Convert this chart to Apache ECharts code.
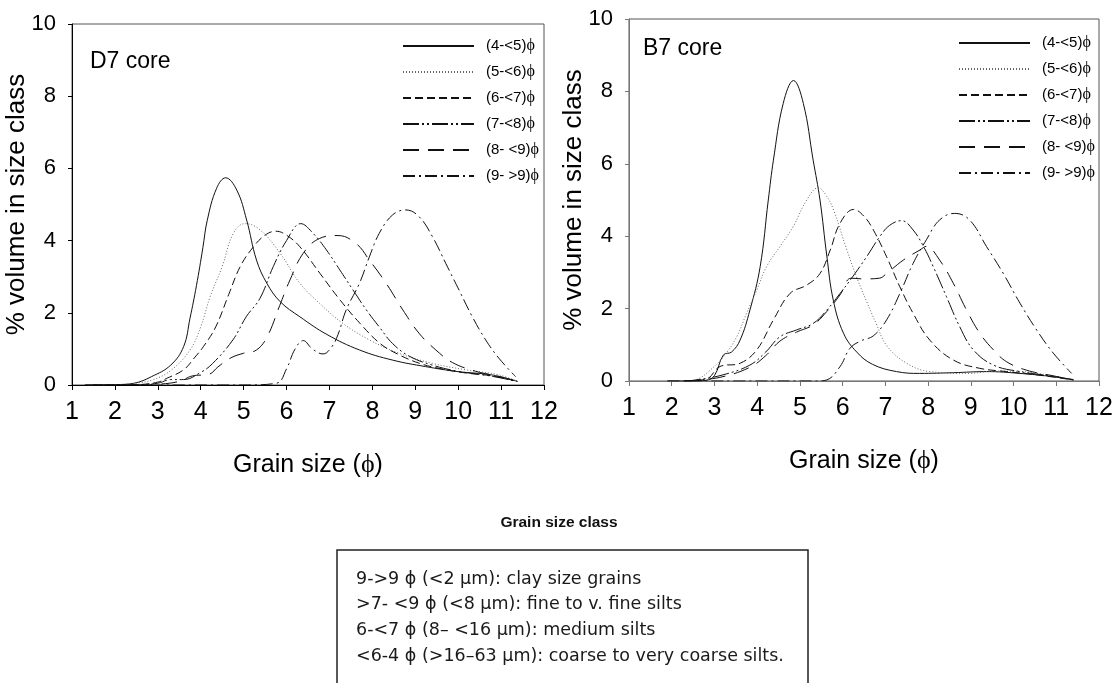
<!DOCTYPE html>
<html>
<head>
<meta charset="utf-8">
<script src="https://cdn.jsdelivr.net/npm/echarts@6/dist/echarts.min.js"></script>
<style>
  html, body { margin: 0; padding: 0; background: #fff; }
  #chart { width: 1118px; height: 683px; }
</style>
</head>
<body>
<div id="chart"></div>
<script>
// size classes (legend entries)
var classNames = ['(4-<5)ϕ', '(5-<6)ϕ', '(6-<7)ϕ', '(7-<8)ϕ', '(8- <9)ϕ', '(9- >9)ϕ'];
var xTicks = [1, 12, 1];   // min, max, step
var yTicks = [0, 10, 2];

// D7 core, [grain size phi, % volume]
var d7_45 = [[1.3,0],[2,0.01],[2.45,0.05],[2.85,0.23],[3.3,0.55],[3.6,1.06],[3.75,1.85],[3.9,2.75],[4.05,3.8],[4.15,4.55],[4.37,5.45],[4.58,5.74],[4.84,5.4],[5.07,4.57],[5.3,3.46],[5.54,2.82],[5.85,2.31],[6.31,1.89],[6.94,1.4],[7.7,0.97],[8.47,0.69],[9.24,0.51],[10,0.37],[10.78,0.28],[11.38,0.1]];
var d7_56 = [[1.3,0],[2,0.01],[2.5,0.05],[2.9,0.15],[3.32,0.42],[3.75,0.97],[4.0,1.61],[4.22,2.45],[4.5,3.28],[4.76,4.2],[5.03,4.47],[5.38,4.3],[5.85,3.65],[6.31,2.82],[6.77,2.26],[7.31,1.71],[7.93,1.25],[8.62,0.88],[9.4,0.6],[10.18,0.42],[10.95,0.28],[11.38,0.1]];
var d7_67 = [[1.5,0],[2.5,0.01],[3,0.08],[3.2,0.18],[3.6,0.42],[3.85,0.75],[4.06,1.06],[4.35,1.61],[4.65,2.5],[4.92,3.28],[5.23,3.83],[5.5,4.15],[5.75,4.26],[6.0,4.15],[6.31,3.83],[6.78,3.09],[7.25,2.35],[7.71,1.71],[8.18,1.15],[8.6,0.85],[9.1,0.6],[9.6,0.45],[10.2,0.33],[10.8,0.25],[11.38,0.1]];
var d7_78 = [[1.5,0],[2.5,0.01],[3.0,0.05],[3.3,0.15],[3.6,0.15],[4.0,0.35],[4.28,0.6],[4.75,1.25],[5.06,1.89],[5.38,2.4],[5.69,3.28],[6.0,4.0],[6.33,4.47],[6.62,4.2],[6.93,3.74],[7.24,3.19],[7.55,2.63],[7.86,2.08],[8.16,1.61],[8.47,1.15],[8.86,0.8],[9.4,0.55],[10,0.38],[10.7,0.26],[11.38,0.1]];
var d7_89 = [[2.5,0],[3.0,0.02],[3.5,0.1],[3.8,0.25],[4.2,0.3],[4.4,0.5],[4.7,0.75],[5.0,0.88],[5.3,0.97],[5.55,1.34],[5.84,2.2],[6.08,2.91],[6.39,3.65],[6.77,4.06],[7.2,4.14],[7.62,3.92],[7.93,3.46],[8.32,2.82],[8.71,2.08],[9.09,1.43],[9.48,0.97],[9.87,0.62],[10.41,0.38],[10.9,0.25],[11.38,0.1]];
var d7_99 = [[1.3,0],[5.0,0],[5.77,0.05],[6.0,0.45],[6.2,1.0],[6.39,1.23],[6.6,1.0],[6.85,0.86],[7.05,1.05],[7.2,1.4],[7.39,2.08],[7.7,2.82],[7.93,3.55],[8.16,4.2],[8.47,4.71],[8.78,4.85],[9.09,4.66],[9.4,4.11],[9.71,3.37],[10.02,2.63],[10.33,1.89],[10.64,1.25],[10.95,0.74],[11.34,0.23]];

// B7 core
var b7_45 = [[1.9,0],[2.5,0],[2.8,0.02],[3.0,0.15],[3.21,0.72],[3.4,0.8],[3.6,1.13],[3.83,1.96],[4.07,3.16],[4.26,5.0],[4.38,6.1],[4.61,7.67],[4.85,8.3],[5.08,7.67],[5.31,6.1],[5.47,5.0],[5.63,3.45],[5.78,2.24],[6.02,1.32],[6.33,0.8],[6.7,0.46],[7.26,0.26],[7.8,0.21],[8.6,0.23],[9.37,0.26],[10.15,0.21],[10.93,0.12],[11.4,0.04]];
var b7_56 = [[2.3,0],[2.6,0.05],[2.9,0.3],[3.21,0.67],[3.52,1.22],[3.75,1.87],[3.99,2.51],[4.22,3.16],[4.53,3.71],[4.84,4.26],[5.16,5.0],[5.43,5.34],[5.6,5.15],[5.78,4.75],[6.09,3.65],[6.35,2.8],[6.56,2.2],[6.78,1.6],[7.03,0.98],[7.5,0.49],[8.04,0.26],[8.98,0.21],[9.5,0.27],[10.0,0.27],[10.5,0.22],[11.0,0.12],[11.4,0.03]];
var b7_67 = [[2.3,0],[2.8,0.05],[3.13,0.4],[3.6,0.49],[3.99,0.86],[4.38,1.69],[4.77,2.42],[5.16,2.65],[5.47,2.97],[5.71,3.62],[5.94,4.36],[6.26,4.74],[6.5,4.55],[6.72,4.17],[7.03,3.43],[7.34,2.6],[7.65,1.87],[8.04,1.13],[8.59,0.58],[9.21,0.35],[9.84,0.26],[10.54,0.17],[11.4,0.03]];
var b7_78 = [[2.3,0],[2.58,0.03],[3.2,0.17],[3.83,0.44],[4.2,0.8],[4.53,1.22],[4.92,1.41],[5.31,1.59],[5.63,1.96],[5.94,2.42],[6.21,2.84],[6.56,3.43],[6.87,3.99],[7.1,4.3],[7.38,4.43],[7.65,4.17],[7.9,3.7],[8.12,3.16],[8.43,2.33],[8.74,1.5],[9.06,0.86],[9.53,0.44],[10.15,0.26],[10.8,0.15],[11.4,0.03]];
var b7_89 = [[2.3,0],[2.58,0.02],[3.2,0.12],[3.83,0.38],[4.2,0.7],[4.53,1.1],[4.92,1.35],[5.31,1.55],[5.63,1.92],[5.94,2.38],[6.2,2.84],[6.5,2.82],[6.86,2.84],[7.03,2.97],[7.42,3.34],[7.81,3.62],[7.96,3.72],[8.27,3.34],[8.59,2.7],[8.9,1.96],[9.21,1.32],[9.53,0.86],[9.84,0.53],[10.3,0.3],[10.9,0.15],[11.4,0.03]];
var b7_99 = [[1.9,0],[5.4,0],[5.63,0.03],[5.94,0.4],[6.17,0.9],[6.41,1.1],[6.72,1.25],[7.03,1.69],[7.34,2.42],[7.65,3.25],[7.96,3.9],[8.27,4.45],[8.62,4.63],[8.97,4.45],[9.37,3.71],[9.76,2.97],[10.15,2.15],[10.54,1.41],[10.93,0.77],[11.36,0.21]];

var classLines = [
  '9->9 ϕ (<2 µm): clay size grains',
  '>7- <9 ϕ (<8 µm): fine to v. fine silts',
  '6-<7 ϕ (8– <16 µm): medium silts',
  '<6-4 ϕ (>16–63 µm): coarse to very coarse silts.'
];

var FONT = 'Liberation Sans, Arial, sans-serif';
var dashes = ['solid', [1, 2], [8, 4], [16, 3, 2, 3, 2, 3], [16, 9], [12, 4, 2, 4]];
var colors = ['#111', '#666', '#111', '#111', '#111', '#111'];

var chart = echarts.init(document.getElementById('chart'), null, { renderer: 'canvas' });

function makeSeries(sets, idx) {
  return sets.map(function (d, i) {
    return {
      name: classNames[i],
      type: 'line',
      xAxisIndex: idx,
      yAxisIndex: idx,
      data: d,
      smooth: 0.4,
      symbol: 'none',
      animation: false,
      lineStyle: { color: colors[i], width: 1, type: dashes[i] },
      itemStyle: { color: colors[i] }
    };
  });
}

function xAxis(idx, axisColor) {
  return {
    type: 'value', gridIndex: idx, min: xTicks[0], max: xTicks[1], interval: xTicks[2],
    name: 'Grain size ({p|ϕ})', nameLocation: 'middle', nameGap: 67,
    nameTextStyle: { fontSize: 25, color: '#000', fontFamily: FONT,
      rich: { p: { fontSize: 26, fontFamily: 'Liberation Serif, serif', color: '#000' } } },
    axisLine: { lineStyle: { color: axisColor, width: 1 } },
    axisTick: { length: 5, lineStyle: { color: axisColor } },
    axisLabel: { fontSize: 25, color: '#000', fontFamily: FONT, margin: 15 },
    splitLine: { show: false }
  };
}

function yAxis(idx, axisColor) {
  return {
    type: 'value', gridIndex: idx, min: yTicks[0], max: yTicks[1], interval: yTicks[2],
    name: '% volume in size class', nameLocation: 'middle', nameGap: 42,
    nameMoveOverlap: false,
    nameTextStyle: { fontSize: 26, color: '#000', fontFamily: FONT },
    axisLine: { show: true, lineStyle: { color: axisColor, width: 1 } },
    axisTick: { show: true, length: 4, lineStyle: { color: axisColor } },
    axisLabel: { fontSize: 22, color: '#000', fontFamily: FONT, margin: 16 },
    splitLine: { show: false }
  };
}

function legend(left, top) {
  return {
    data: classNames, orient: 'vertical', left: left, top: top,
    itemWidth: 71, itemHeight: 14, itemGap: 10, selectedMode: false,
    itemStyle: { opacity: 0 },
    formatter: function (n) { return n.replace('ϕ', '{p|ϕ}'); },
    textStyle: { fontSize: 15, color: '#000', fontFamily: FONT, padding: [0, 0, 0, 7],
      rich: { p: { fontSize: 16, fontFamily: 'Liberation Serif, serif', color: '#000' } } }
  };
}

var graphics = [
  { type: 'text', left: 90, top: 50, style: { text: 'D7 core', fill: '#000', font: '23px ' + FONT } },
  { type: 'text', left: 643, top: 37, style: { text: 'B7 core', fill: '#000', font: '23px ' + FONT } },
  { type: 'text', x: 559, y: 523, style: { text: 'Grain size class', font: 'bold 15.5px ' + FONT, fill: '#111', align: 'center', verticalAlign: 'middle' } },
  { type: 'rect', shape: { x: 337, y: 550, width: 471, height: 170 }, style: { fill: 'none', stroke: '#222', lineWidth: 1.5 } }
];
classLines.forEach(function (t, i) {
  graphics.push({ type: 'text', x: 356, y: 579 + i * 25.7,
    style: { text: t, font: '17.5px DejaVu Sans, sans-serif', fill: '#1a1a1a', verticalAlign: 'middle' } });
});

chart.setOption({
  backgroundColor: '#fff',
  animation: false,
  grid: [
    { left: 72, top: 24, width: 472, height: 361, show: true, borderColor: '#555', borderWidth: 1 },
    { left: 629, top: 19, width: 470, height: 362, show: true, borderColor: '#555', borderWidth: 1 }
  ],
  xAxis: [xAxis(0, '#000'), xAxis(1, '#777')],
  yAxis: [yAxis(0, '#000'), yAxis(1, '#777')],
  legend: [legend(397, 33), legend(953, 30)],
  series: makeSeries([d7_45, d7_56, d7_67, d7_78, d7_89, d7_99], 0)
    .concat(makeSeries([b7_45, b7_56, b7_67, b7_78, b7_89, b7_99], 1)),
  graphic: graphics
});
</script>
</body>
</html>
